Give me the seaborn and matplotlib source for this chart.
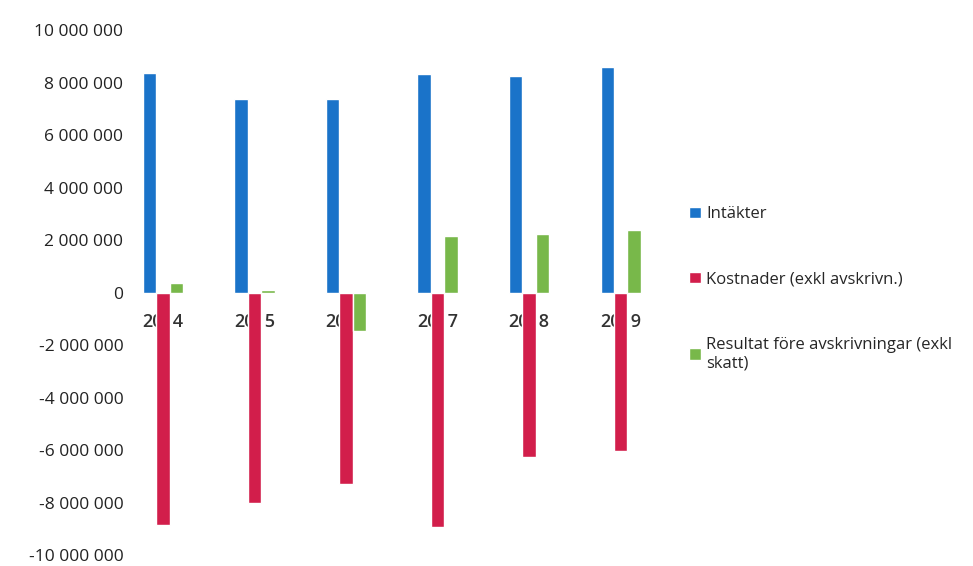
import numpy as np
import pandas as pd
import matplotlib
matplotlib.use('Agg')
import matplotlib.pyplot as plt
import seaborn as sns

years = ['2014', '2015', '2016', '2017', '2018', '2019']
intakter = [8360000, 7370000, 7370000, 8320000, 8240000, 8590000]
kostnader = [-8850000, -8020000, -7290000, -8930000, -6260000, -6030000]
resultat = [350000, 100000, -1450000, 2140000, 2250000, 2370000]
series = ['Intäkter', 'Kostnader (exkl avskrivn.)', 'Resultat före avskrivningar (exkl\nskatt)']
colors = ['#1a73c9', '#d21e4b', '#78b84a']

df = pd.DataFrame({
    'year': years * 3,
    'serie': [series[0]] * 6 + [series[1]] * 6 + [series[2]] * 6,
    'value': intakter + kostnader + resultat,
})

sns.set_style('white')
plt.rcParams['font.family'] = ['Open Sans', 'DejaVu Sans']

fig = plt.figure(figsize=(9.73, 5.66), dpi=100)
ax = fig.add_axes([0.144, 0.019, 0.54, 0.928])
ax.set_axisbelow(True)

sns.barplot(data=df, x='year', y='value', hue='serie', palette=colors,
            width=0.44, saturation=1, ax=ax, zorder=3, legend=True)

ax.set_ylim(-10000000, 10000000)
ax.set_xlim(-0.25, 5.49)
ticks = np.arange(-10000000, 10000001, 2000000)
ax.set_yticks(ticks)
ax.set_yticklabels([f'{t:,}'.replace(',', ' ') for t in ticks], fontsize=12.5, color='#222222')
ax.tick_params(axis='y', length=0, pad=12)
ax.tick_params(axis='x', length=0, pad=15)
ax.spines['bottom'].set_position(('data', 0))
for s in ['top', 'right', 'left', 'bottom']:
    ax.spines[s].set_visible(False)
for lab in ax.get_xticklabels():
    lab.set_fontsize(13)
    lab.set_fontweight('semibold')
    lab.set_color('#333333')
ax.set_xlabel('')
ax.set_ylabel('')

handles, labels = ax.get_legend_handles_labels()
leg = ax.legend(handles, labels, loc='upper left', bbox_to_anchor=(0.693, 0.662),
                bbox_transform=fig.transFigure, frameon=False, fontsize=12,
                handlelength=0.7, handleheight=0.7, handletextpad=0.3,
                labelspacing=2.95)

fig.savefig('out.png', dpi=100)
